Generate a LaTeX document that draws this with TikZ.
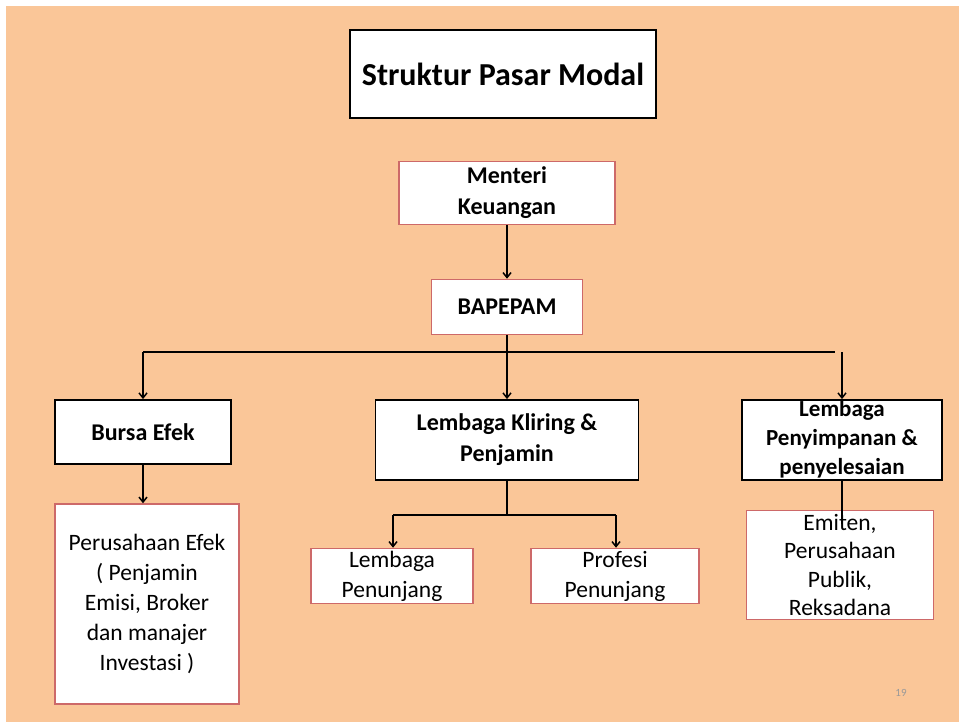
\documentclass[tikz,border=0pt]{standalone}
\usepackage{fontspec}
\setmainfont{Carlito}
\usetikzlibrary{arrows.meta}
\definecolor{peach}{RGB}{250,198,152}
\definecolor{redline}{RGB}{205,105,105}
\begin{document}
\begin{tikzpicture}[x=1pt,y=-1pt,
  blackbox/.style={draw=black,line width=1.8pt,fill=white,inner sep=0pt,align=center},
  redbox/.style={draw=redline,line width=1.5pt,fill=white,inner sep=0pt,align=center},
  conn/.style={draw=black,line width=1.5pt},
  arr/.style={conn,-{Straight Barb[length=5pt,width=8pt]}},
  lbl/.style={font=\fontsize{23.5}{30}\selectfont,align=center},
  blbl/.style={font=\bfseries\fontsize{24}{31}\selectfont,align=center}]
\useasboundingbox (0,0) rectangle (959,722);
\fill[white] (0,0) rectangle (959,722);
\fill[peach] (6,6) rectangle (959,722);

% boxes
\node[blackbox,minimum width=306pt,minimum height=88pt,font=\bfseries\fontsize{32}{36}\selectfont] (title) at (503,74) {Struktur Pasar Modal};
\node[redbox,minimum width=216pt,minimum height=63pt,blbl] (menteri) at (507,193) {Menteri\\Keuangan};
\node[redbox,minimum width=151pt,minimum height=55pt,blbl] (bapepam) at (507,307) {BAPEPAM};
\node[blackbox,minimum width=176pt,minimum height=64pt,blbl] (bursa) at (143,432) {Bursa Efek};
\node[blackbox,minimum width=263pt,minimum height=80pt,blbl] (kliring) at (507,440) {Lembaga Kliring \&\\Penjamin};
\node[blackbox,minimum width=200pt,minimum height=80pt] (simpan) at (842,440) {};
\node[blbl,font=\bfseries\fontsize{23}{29}\selectfont] (simpantxt) at (842,439) {Lembaga\\Penyimpanan \&\\penyelesaian};
\node[redbox,minimum width=184pt,minimum height=200pt,lbl] (perusahaan) at (147,604) {Perusahaan Efek\\( Penjamin\\Emisi, Broker\\dan manajer\\Investasi )};
\node[redbox,minimum width=162pt,minimum height=55pt,lbl] (lpen) at (392,576) {Lembaga\\Penunjang};
\node[redbox,minimum width=168pt,minimum height=55pt,lbl] (ppen) at (615,576) {Profesi\\Penunjang};
\node[redbox,minimum width=187pt,minimum height=109pt,lbl,font=\fontsize{23.5}{28.5}\selectfont] (emiten) at (840,565) {Emiten,\\Perusahaan\\Publik,\\Reksadana};
\node[text=gray!80,font=\fontsize{11}{13}\selectfont] (pg) at (901,693) {19};

% helper coordinates
\coordinate (hl) at (143,352);
\coordinate (hm) at (507,352);
\coordinate (hr) at (835,352);
\coordinate (hr2) at (842,352);
\coordinate (kb) at (507,515);
\coordinate (kl) at (393,515);
\coordinate (kr) at (616,515);
\coordinate (em) at (842,524);

% connectors
\draw[arr] (menteri.south) -- (bapepam.north);
\draw[conn] (bapepam.south) -- (hm);
\draw[conn] (hl) -- (hr);
\draw[arr] (hl) -- (bursa.north);
\draw[arr] (hm) -- (kliring.north);
\draw[arr] (hr2) -- (simpan.north);
\draw[arr] (bursa.south) -- (bursa.south |- perusahaan.north);
\draw[conn] (kliring.south) -- (kb);
\draw[conn] (kl) -- (kr);
\draw[arr] (kl) -- (kl |- lpen.north);
\draw[arr] (kr) -- (kr |- ppen.north);
\draw[conn] (simpan.south -| hr2) -- (em);
\end{tikzpicture}
\end{document}
